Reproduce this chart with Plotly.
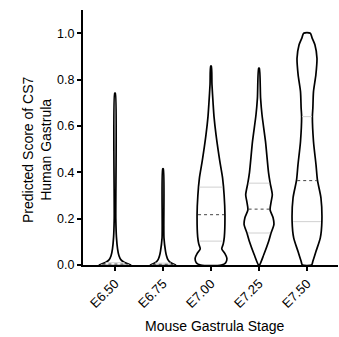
import numpy as np
import plotly.graph_objects as go

# ---- data ----
stages = ["E6.50", "E6.75", "E7.00", "E7.25", "E7.50"]

# violin outlines: score levels and relative half-width (density, max = 1)
prof_y_e650 = [0.0, 0.005, 0.012, 0.022, 0.04, 0.07, 0.12, 0.2, 0.741]
prof_w_e650 = [1.0, 0.82, 0.58, 0.38, 0.25, 0.16, 0.09, 0.05, 0.02]

prof_y_e675 = [0.0, 0.005, 0.012, 0.023, 0.04, 0.059, 0.117, 0.415]
prof_w_e675 = [0.80, 0.63, 0.44, 0.31, 0.22, 0.16, 0.06, 0.02]

prof_y_e700 = [0.0, 0.01, 0.03, 0.05, 0.07, 0.09, 0.12, 0.217, 0.30, 0.376, 0.45, 0.56, 0.64, 0.70, 0.78, 0.858]
prof_w_e700 = [0.65, 0.93, 1.0, 0.87, 0.68, 0.77, 0.84, 0.88, 0.83, 0.73, 0.55, 0.32, 0.19, 0.13, 0.06, 0.02]

prof_y_e725 = [0.0, 0.044, 0.10, 0.138, 0.174, 0.204, 0.238, 0.274, 0.303, 0.355, 0.40, 0.533, 0.648, 0.72, 0.849]
prof_w_e725 = [0.03, 0.30, 0.60, 0.76, 0.94, 0.89, 0.70, 0.77, 0.84, 0.70, 0.60, 0.41, 0.19, 0.10, 0.02]

prof_y_e750 = [0.0, 0.016, 0.059, 0.117, 0.188, 0.29, 0.366, 0.432, 0.533, 0.64, 0.677, 0.748, 0.82, 0.892, 0.95, 0.98, 1.0]
prof_w_e750 = [0.29, 0.37, 0.57, 0.84, 0.94, 0.88, 0.66, 0.57, 0.41, 0.34, 0.37, 0.41, 0.56, 0.63, 0.50, 0.32, 0.21]

profiles_y = [prof_y_e650, prof_y_e675, prof_y_e700, prof_y_e725, prof_y_e750]
profiles_w = [prof_w_e650, prof_w_e675, prof_w_e700, prof_w_e725, prof_w_e750]

q1_vals = [0.001, 0.001, 0.103, 0.138, 0.187]
median_vals = [0.004, 0.003, 0.217, 0.241, 0.364]
q3_vals = [0.010, 0.008, 0.336, 0.353, 0.640]

y_ticks = [0.0, 0.2, 0.4, 0.6, 0.8, 1.0]

# ---- styling ----
HALF_WIDTH = 0.33
FONT = "Arial, Liberation Sans, sans-serif"

fig = go.Figure()

for i, (py, pw) in enumerate(zip(profiles_y, profiles_w)):
    py = np.array(py, dtype=float)
    pw = np.array(pw, dtype=float) * HALF_WIDTH
    xs = np.concatenate([i + pw, (i - pw)[::-1], [i + pw[0]]])
    ys = np.concatenate([py, py[::-1], [py[0]]])
    fig.add_trace(go.Scatter(x=xs, y=ys, mode="lines", fill="toself",
                             fillcolor="white",
                             line=dict(color="black", width=1.7, shape="spline", smoothing=0.7),
                             hoverinfo="skip", showlegend=False))
    for val, col, dash in [(q1_vals[i], "#d0d0d0", "solid"),
                           (q3_vals[i], "#d0d0d0", "solid"),
                           (median_vals[i], "#444444", "dot")]:
        hw = np.interp(val, py, pw) * 0.93
        fig.add_trace(go.Scatter(x=[i - hw, i + hw], y=[val, val], mode="lines",
                                 line=dict(color=col, width=1, dash=dash),
                                 hoverinfo="skip", showlegend=False))

fig.update_layout(
    width=339, height=337,
    margin=dict(l=83, r=1, t=10, b=72),
    paper_bgcolor="white", plot_bgcolor="white",
    font=dict(family=FONT, size=12, color="black"),
    showlegend=False,
)
fig.update_xaxes(range=[-0.667, 4.646], tickvals=list(range(len(stages))), ticktext=stages,
                 tickangle=-45, ticks="outside", ticklen=4, tickwidth=1.5, tickcolor="black",
                 showline=True, linewidth=2, linecolor="black", showgrid=False, zeroline=False,
                 tickfont=dict(size=13))
fig.update_yaxes(range=[0, 1.1], tickvals=y_ticks, tickformat=".1f",
                 ticks="outside", ticklen=4, tickwidth=1.5, tickcolor="black",
                 showline=True, linewidth=2, linecolor="black", showgrid=False, zeroline=False,
                 tickfont=dict(size=12.5))

fig.add_annotation(text="Predicted Score of CS7<br>Human Gastrula", textangle=-90,
                   xref="paper", yref="paper", x=0, y=0.451, xanchor="center", yanchor="middle",
                   xshift=-46, showarrow=False, font=dict(size=14, family=FONT))
fig.add_annotation(text="Mouse Gastrula Stage",
                   xref="paper", yref="paper", x=0.5, y=0, xanchor="center", yanchor="middle",
                   xshift=4, yshift=-61, showarrow=False, font=dict(size=14, family=FONT))

fig.write_html("out.html")
